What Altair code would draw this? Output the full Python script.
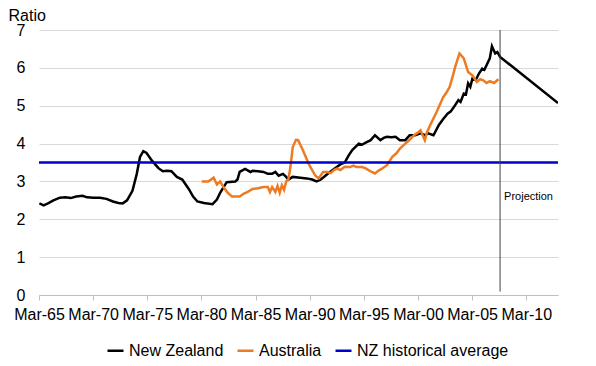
import altair as alt
import pandas as pd

FONT = "Liberation Sans"

# New Zealand house price to income ratio (decimal year, value)
nz_years = [1965.2, 1965.6, 1966.0, 1966.5, 1967.1, 1967.6, 1968.1, 1968.6, 1969.2, 1969.6,
            1970.2, 1970.8, 1971.4, 1972.0, 1972.5, 1972.9, 1973.3, 1973.8, 1974.2, 1974.5,
            1974.8, 1975.1, 1975.6, 1976.2, 1976.6, 1977.0, 1977.4, 1977.9, 1978.4, 1979.0,
            1979.4, 1979.8, 1980.4, 1981.2, 1981.6, 1981.9, 1982.5, 1983.3, 1983.5, 1983.7,
            1984.2, 1984.7, 1984.9, 1985.4, 1985.9, 1986.3, 1986.7, 1987.0, 1987.3, 1987.7,
            1988.0, 1988.2, 1988.6, 1989.3, 1989.9, 1990.4, 1990.8, 1991.2, 1991.7, 1992.2,
            1992.7, 1993.0, 1993.4, 1993.8, 1994.1, 1994.7, 1995.0, 1995.3, 1995.8, 1996.2,
            1996.7, 1997.0, 1997.3, 1997.7, 1998.1, 1998.5, 1999.0, 1999.4, 1999.9, 2000.4,
            2000.8, 2001.1, 2001.6, 2002.1, 2002.5, 2002.9, 2003.2, 2003.5, 2003.9, 2004.1,
            2004.4, 2004.6, 2004.8, 2005.0, 2005.2, 2005.5, 2005.8, 2006.1, 2006.3, 2006.5,
            2006.8, 2007.0, 2007.3, 2007.5, 2007.75]
nz_values = [2.42, 2.37, 2.42, 2.50, 2.57, 2.58, 2.56, 2.60, 2.62, 2.58,
             2.57, 2.57, 2.54, 2.47, 2.43, 2.42, 2.50, 2.75, 3.20, 3.65,
             3.80, 3.75, 3.55, 3.35, 3.27, 3.28, 3.27, 3.12, 3.05, 2.80,
             2.60, 2.47, 2.43, 2.40, 2.52, 2.70, 2.98, 3.00, 3.05, 3.25,
             3.33, 3.25, 3.28, 3.27, 3.25, 3.20, 3.20, 3.25, 3.15, 3.20,
             3.12, 3.05, 3.12, 3.10, 3.08, 3.05, 3.00, 3.05, 3.17, 3.28,
             3.39, 3.45, 3.50, 3.70, 3.83, 4.00, 3.97, 4.02, 4.09, 4.22,
             4.09, 4.15, 4.18, 4.17, 4.18, 4.09, 4.09, 4.22, 4.22, 4.27,
             4.22, 4.27, 4.22, 4.49, 4.65, 4.79, 4.85, 4.97, 5.15, 5.10,
             5.32, 5.30, 5.59, 5.50, 5.72, 5.68, 5.85, 5.98, 5.95, 6.07,
             6.25, 6.57, 6.38, 6.42, 6.29]

# NZ projection
proj_years = [2007.75, 2013.1]
proj_values = [6.29, 5.07]

# Australia
au_years = [1980.2, 1980.8, 1981.3, 1981.6, 1981.9, 1982.2, 1982.6, 1983.0, 1983.7, 1984.1,
            1984.4, 1984.9, 1985.4, 1985.9, 1986.3, 1986.5, 1986.7, 1987.0, 1987.2, 1987.4,
            1987.6, 1987.8, 1988.0, 1988.2, 1988.4, 1988.6, 1988.9, 1989.1, 1989.5, 1989.8,
            1990.1, 1990.4, 1990.7, 1991.0, 1991.4, 1991.8, 1992.1, 1992.4, 1992.7, 1993.0,
            1993.4, 1993.9, 1994.2, 1994.5, 1995.0, 1995.3, 1995.6, 1995.9, 1996.2, 1996.5,
            1996.8, 1997.3, 1997.8, 1998.2, 1998.5, 1999.0, 1999.4, 1999.8, 2000.2, 2000.4,
            2000.8, 2001.0, 2001.3, 2001.9, 2002.5, 2002.8, 2003.1, 2003.4, 2003.6, 2004.0,
            2004.4, 2004.8, 2005.2, 2005.6, 2005.9, 2006.2, 2006.5, 2006.8, 2007.2, 2007.6]
au_values = [3.00, 3.00, 3.10, 2.92, 3.00, 2.85, 2.70, 2.60, 2.60, 2.68,
             2.72, 2.80, 2.82, 2.85, 2.85, 2.72, 2.85, 2.72, 2.88, 2.70,
             2.90, 2.78, 3.00, 3.05, 3.40, 3.90, 4.10, 4.09, 3.85, 3.65,
             3.45, 3.30, 3.15, 3.08, 3.25, 3.25, 3.22, 3.30, 3.34, 3.30,
             3.39, 3.38, 3.42, 3.38, 3.38, 3.35, 3.30, 3.25, 3.21, 3.28,
             3.33, 3.43, 3.65, 3.75, 3.87, 4.00, 4.10, 4.22, 4.30, 4.35,
             4.09, 4.30, 4.49, 4.84, 5.23, 5.35, 5.50, 5.80, 6.02, 6.38,
             6.25, 5.89, 5.80, 5.63, 5.70, 5.67, 5.60, 5.65, 5.60, 5.70]

# NZ historical average
avg_years = [1965.17, 2013.1]
avg_values = [3.5, 3.5]

series_names = ["New Zealand", "Australia", "NZ historical average"]
series_colors = ["#000000", "#EE7A22", "#0000CC"]

tick_years = [1965.17, 1970.17, 1975.17, 1980.17, 1985.17, 1990.17, 1995.17, 2000.17, 2005.17, 2010.17]
x_domain = [1965.17, 2013.1]
y_ticks = [0, 1, 2, 3, 4, 5, 6, 7]

proj_line_year = [2007.75]
proj_label = ["Projection"]
proj_label_y = [2.6]

rows = []
for y, v in zip(nz_years + proj_years[1:], nz_values + proj_values[1:]):
    rows.append({"year": y, "value": v, "series": "New Zealand"})
for y, v in zip(au_years, au_values):
    rows.append({"year": y, "value": v, "series": "Australia"})
for y, v in zip(avg_years, avg_values):
    rows.append({"year": y, "value": v, "series": "NZ historical average"})
df = pd.DataFrame(rows)

x_scale = alt.Scale(domain=x_domain, nice=False, zero=False)
y_scale = alt.Scale(domain=[0, 7], nice=False)

x_axis = alt.Axis(values=tick_years, title=None, grid=False,
                  labelExpr="'Mar-' + substring(toString(floor(datum.value)), 2, 4)",
                  labelFontSize=16, labelFont=FONT, labelColor="#000000",
                  domainColor="#BFBFBF", tickColor="#BFBFBF", tickSize=5,
                  labelPadding=6, labelFlush=False, labelOverlap=False)
y_axis = alt.Axis(values=y_ticks, tickCount=8, title="Ratio", titleAngle=0,
                  titleX=-31, titleY=-9.5, titleAlign="left", titleBaseline="alphabetic",
                  titleFontSize=16, titleFont=FONT, titleFontWeight="normal",
                  titleColor="#000000",
                  labelFontSize=16, labelFont=FONT, labelColor="#000000",
                  labelPadding=14, domain=False, ticks=False, labelOverlap=False,
                  gridColor="#D9D9D9", gridWidth=1)

lines = alt.Chart(df).mark_line(strokeWidth=2.5, clip=True).encode(
    x=alt.X("year:Q", scale=x_scale, axis=x_axis),
    y=alt.Y("value:Q", scale=y_scale, axis=y_axis),
    color=alt.Color("series:N", scale=alt.Scale(domain=series_names, range=series_colors),
                    legend=alt.Legend(orient="none", legendX=67, legendY=311,
                                      direction="horizontal", title=None, padding=0,
                                      symbolType="stroke", symbolStrokeWidth=2.5, symbolSize=256,
                                      labelFontSize=16, labelFont=FONT, labelColor="#000000",
                                      labelOffset=4, columnPadding=8)),
    detail="series:N",
    order="year:Q",
)

rule_df = pd.DataFrame({"year": proj_line_year, "value": [7.0], "bottom": [0.09]})
rule = alt.Chart(rule_df).mark_rule(color="#404040", strokeWidth=1).encode(
    x=alt.X("year:Q", scale=x_scale, axis=x_axis),
    y=alt.Y("value:Q", scale=y_scale, axis=y_axis),
    y2="bottom:Q",
)

label_df = pd.DataFrame({"year": proj_line_year, "value": proj_label_y, "text": proj_label})
label = alt.Chart(label_df).mark_text(align="left", baseline="middle", dx=4, fontSize=11,
                                      font=FONT, color="#000000").encode(
    x=alt.X("year:Q", scale=x_scale, axis=x_axis),
    y=alt.Y("value:Q", scale=y_scale, axis=y_axis),
    text="text:N",
)

chart = alt.layer(lines, rule, label).properties(
    width=519, height=265,
    autosize=alt.AutoSizeParams(type="none"),
    padding={"left": 31, "top": 22, "right": 30, "bottom": 64},
    background="#FFFFFF",
).configure_view(stroke=None)

chart.save("out.html", embed_options={"renderer": "svg", "actions": False})
